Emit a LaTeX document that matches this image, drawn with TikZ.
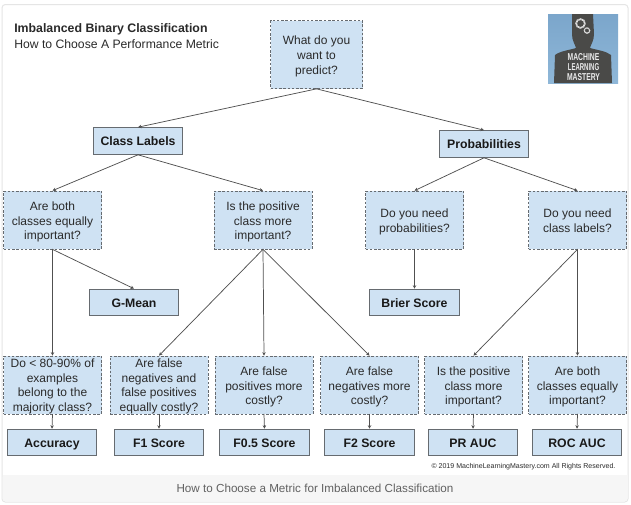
\documentclass[tikz,border=0pt]{standalone}
\usepackage{fontspec}
\setmainfont{Liberation Sans}
\usetikzlibrary{arrows.meta}
\definecolor{boxfill}{HTML}{CFE2F3}
\definecolor{edgecol}{HTML}{666B70}
\definecolor{linecol}{HTML}{505050}
\definecolor{inkcol}{HTML}{2A2A2A}
\definecolor{logodark}{HTML}{4A4A48}
\definecolor{logotop}{HTML}{7BA6CB}
\definecolor{logobot}{HTML}{8FB7D8}
\newcommand{\qs}{\rule{0pt}{9.5pt}}
\newcommand{\qe}{\rule[-2pt]{0pt}{2pt}}
\newcommand{\qf}{\rule{0pt}{8.7pt}}
\tikzset{
  basebox/.style={fill=boxfill,inner sep=0pt,align=center,text=inkcol,font=\fontsize{9pt}{11pt}\selectfont},
  question/.style={basebox,draw=edgecol,line width=0.55pt,dash pattern=on 1.9pt off 1.3pt,minimum width=73.5pt,minimum height=43.5pt},
  answer/.style={basebox,draw=edgecol,line width=0.7pt,minimum width=67pt,minimum height=20pt,text=black!90,font=\fontsize{9.2pt}{11pt}\selectfont\bfseries,
    execute at begin node={\rule{0pt}{9.1pt}},execute at end node={\rule[-2pt]{0pt}{2pt}}},
  conn/.style={draw=linecol,line width=0.55pt,-{Stealth[length=2.6pt,width=2.6pt]},shorten <=-0.3pt},
  plain/.style={inner sep=0pt,text=inkcol,align=left,anchor=west},
  logotext/.style={inner sep=0pt,text=white!92!black,font=\fontsize{7.5pt}{7.5pt}\selectfont\bfseries}
}
\begin{document}
\begin{tikzpicture}[x=0.75pt,y=-0.75pt]
\useasboundingbox (0,0) rectangle (631,504);
\fill[white] (0,0) rectangle (631,504);
% card
\draw[draw=black!10,fill=white,line width=0.75pt,rounded corners=2.5pt] (2,4.5) rectangle (628,502);
\fill[black!3.5,rounded corners=2pt] (2.5,475) rectangle (627.5,501.5);
\fill[black!3.5] (2.5,475) rectangle (627.5,490);
% heading
\node[plain,font=\fontsize{9.25pt}{11pt}\selectfont\bfseries] (title) at (14,29.5) {Imbalanced Binary Classification};
\node[plain,font=\fontsize{9.15pt}{11pt}\selectfont] (subtitle) at (14,44) {How to Choose A Performance Metric};
% logo
\shade[top color=logotop,bottom color=logobot] (548,14) rectangle (618,83);
\fill[logodark] (572,14) -- (572,34) .. controls (572,41) and (575,44) .. (576,48)
  .. controls (570,50) and (560,51) .. (555,55) -- (554,83) -- (612,83) -- (611,55)
  .. controls (606,51) and (597,50) .. (590,48) .. controls (591,44) and (594,41) .. (594,34) -- (593,14) -- cycle;
\draw[white!88!black,line width=1.3pt,dash pattern=on 0.9pt off 0.35pt] (580.5,23.5) circle (4.4);
\draw[white!88!black,line width=0.9pt,dash pattern=on 0.7pt off 0.3pt] (587,30.5) circle (2.7);
\node[logotext] (logoa) at (583.5,57) {\scalebox{0.68}[1]{MACHINE}};
\node[logotext] (logob) at (583.5,66.7) {\scalebox{0.6}[1]{LEARNING}};
\node[logotext] (logoc) at (583.5,77) {\scalebox{0.68}[1]{MASTERY}};
% nodes
\node[question,minimum height=51pt,minimum width=69pt] (root) at (316.5,54.5) {\qs What do you\\want to\\predict?\qe};
\node[answer] (labels) at (138,141) {Class Labels};
\node[answer] (probs) at (484,144) {Probabilities};
\node[question] (both) at (52.5,220) {\qs Are both\\classes equally\\important?\qe};
\node[question] (positive) at (263,220) {\qs Is the positive\\class more\\important?\qe};
\node[question] (needprob) at (414.5,220) {\qs Do you need\\probabilities?\qe};
\node[question] (needlab) at (577.5,220) {\qs Do you need\\class labels?\qe};
\node[answer] (gmean) at (134,302.5) {G-Mean};
\node[answer] (brier) at (414.5,302.5) {Brier Score};
\node[question] (major) at (52.5,385) {\qf Do < 80-90\% of\\examples\\belong to the\\majority class?};
\node[question] (equal) at (159,385) {\qf Are false\\negatives and\\false positives\\equally costly?};
\node[question] (fp) at (264,385) {\qs Are false\\positives more\\costly?\qe};
\node[question] (fn) at (369.5,385) {\qs Are false\\negatives more\\costly?\qe};
\node[question] (pospr) at (473.5,385) {\qs Is the positive\\class more\\important?\qe};
\node[question] (bothroc) at (577.5,385) {\qs Are both\\classes equally\\important?\qe};
\node[answer] (acc) at (52,442.5) {Accuracy};
\node[answer] (fone) at (159,442.5) {F1 Score};
\node[answer] (fhalf) at (264.5,442.5) {F0.5 Score};
\node[answer] (ftwo) at (369.5,442.5) {F2 Score};
\node[answer] (prauc) at (473,442.5) {PR AUC};
\node[answer] (rocauc) at (577,442.5) {ROC AUC};
% connectors
\draw[conn] (root.south) -- (labels.north);
\draw[conn] (root.south) -- (probs.north);
\draw[conn] (labels.south) -- (both.north);
\draw[conn] (labels.south) -- (positive.north);
\draw[conn] (probs.south) -- (needprob.north);
\draw[conn] (probs.south) -- (needlab.north);
\draw[conn] (both.south) -- (gmean.north);
\draw[conn] (both.south) -- (major.north);
\draw[conn] (positive.south) -- (equal.north);
\draw[conn] (positive.south) -- (fp.north);
\draw[conn] (positive.south) -- (fn.north);
\draw[conn] (needprob.south) -- (brier.north);
\draw[conn] (needlab.south) -- (pospr.north);
\draw[conn] (needlab.south) -- (bothroc.north);
\draw[conn] (major.south) -- (acc.north);
\draw[conn] (equal.south) -- (fone.north);
\draw[conn] (fp.south) -- (fhalf.north);
\draw[conn] (fn.south) -- (ftwo.north);
\draw[conn] (pospr.south) -- (prauc.north);
\draw[conn] (bothroc.south) -- (rocauc.north);
% footer texts
\node[inner sep=0pt,text=inkcol,font=\fontsize{5.27pt}{7pt}\selectfont] (copy) at (523.5,467) {© 2019 MachineLearningMastery.com All Rights Reserved.};
\node[inner sep=0pt,text=black!62,font=\fontsize{8.75pt}{11pt}\selectfont] (caption) at (315,488) {How to Choose a Metric for Imbalanced Classification};
\end{tikzpicture}
\end{document}
